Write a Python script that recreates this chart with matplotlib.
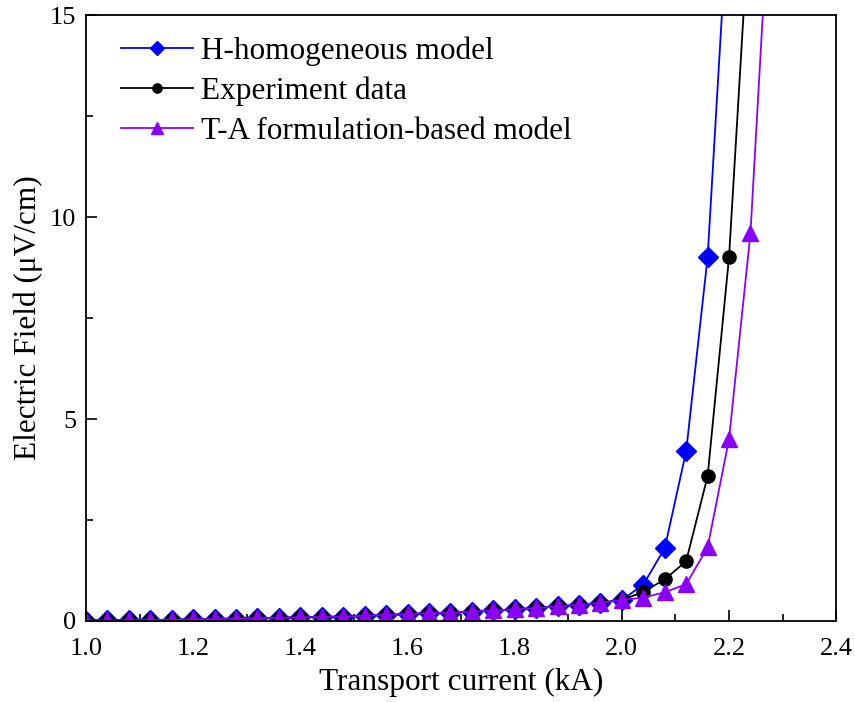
import numpy as np
import matplotlib.pyplot as plt
from matplotlib.ticker import MultipleLocator

plt.rcParams['font.family'] = ['Liberation Serif', 'DejaVu Serif']

# transport current (kA), 0.04 kA steps
current = np.round(np.arange(1.0, 2.281, 0.04), 2)

# common low-field part (1.00 - 2.00 kA), uV/cm
low = [0.01, 0.015, 0.02, 0.025, 0.03, 0.04, 0.05, 0.06, 0.07, 0.08,
       0.09, 0.10, 0.11, 0.13, 0.15, 0.17, 0.19, 0.21, 0.23, 0.26,
       0.29, 0.32, 0.36, 0.40, 0.45, 0.52]

h_model = low + [0.90, 1.80, 4.20, 9.00, 18.0]
experiment = low + [0.72, 1.03, 1.48, 3.58, 9.00, 17.9]
ta_model = low + [0.58, 0.71, 0.91, 1.82, 4.50, 9.60, 19.0]

fig = plt.figure(figsize=(8.55, 7.02), dpi=100)
ax = fig.add_axes([0.1006, 0.1154, 0.8774, 0.8632])

ax.plot(current[:len(h_model)], h_model, '-D', color='#0000ff', lw=1.3,
        ms=10, label='H-homogeneous model')
ax.plot(current[:len(experiment)], experiment, '-o', color='black', lw=1.3,
        ms=9.5, label='Experiment data')
ax.plot(current[:len(ta_model)], ta_model, '-^', color='#8a00ff', lw=1.3,
        ms=12, label='T-A formulation-based model')

ax.set_xlim(1.0, 2.4)
ax.set_ylim(0, 15)
ax.xaxis.set_major_locator(MultipleLocator(0.2))
ax.xaxis.set_minor_locator(MultipleLocator(0.1))
ax.yaxis.set_major_locator(MultipleLocator(5))
ax.yaxis.set_minor_locator(MultipleLocator(2.5))
ax.xaxis.set_major_formatter(plt.FormatStrFormatter('%.1f'))
ax.tick_params(which='both', direction='in', labelsize=19, width=1.2)
ax.tick_params(which='major', length=8)
ax.tick_params(axis='y', pad=7)
ax.tick_params(axis='x', pad=12)
ax.tick_params(which='minor', length=5)
for s in ax.spines.values():
    s.set_linewidth(1.3)

ax.set_xlabel('Transport current (kA)', fontsize=22.5, labelpad=6)
ax.set_ylabel('Electric Field (μV/cm)', fontsize=22.5, labelpad=5)

ax.legend(loc='upper left', frameon=False, fontsize=22.5, handlelength=2.3,
          borderaxespad=0.3, labelspacing=0.33, handletextpad=0.25,
          markerscale=0.7, bbox_to_anchor=(0.018, 1.0))

fig.savefig('out.png', dpi=100)
